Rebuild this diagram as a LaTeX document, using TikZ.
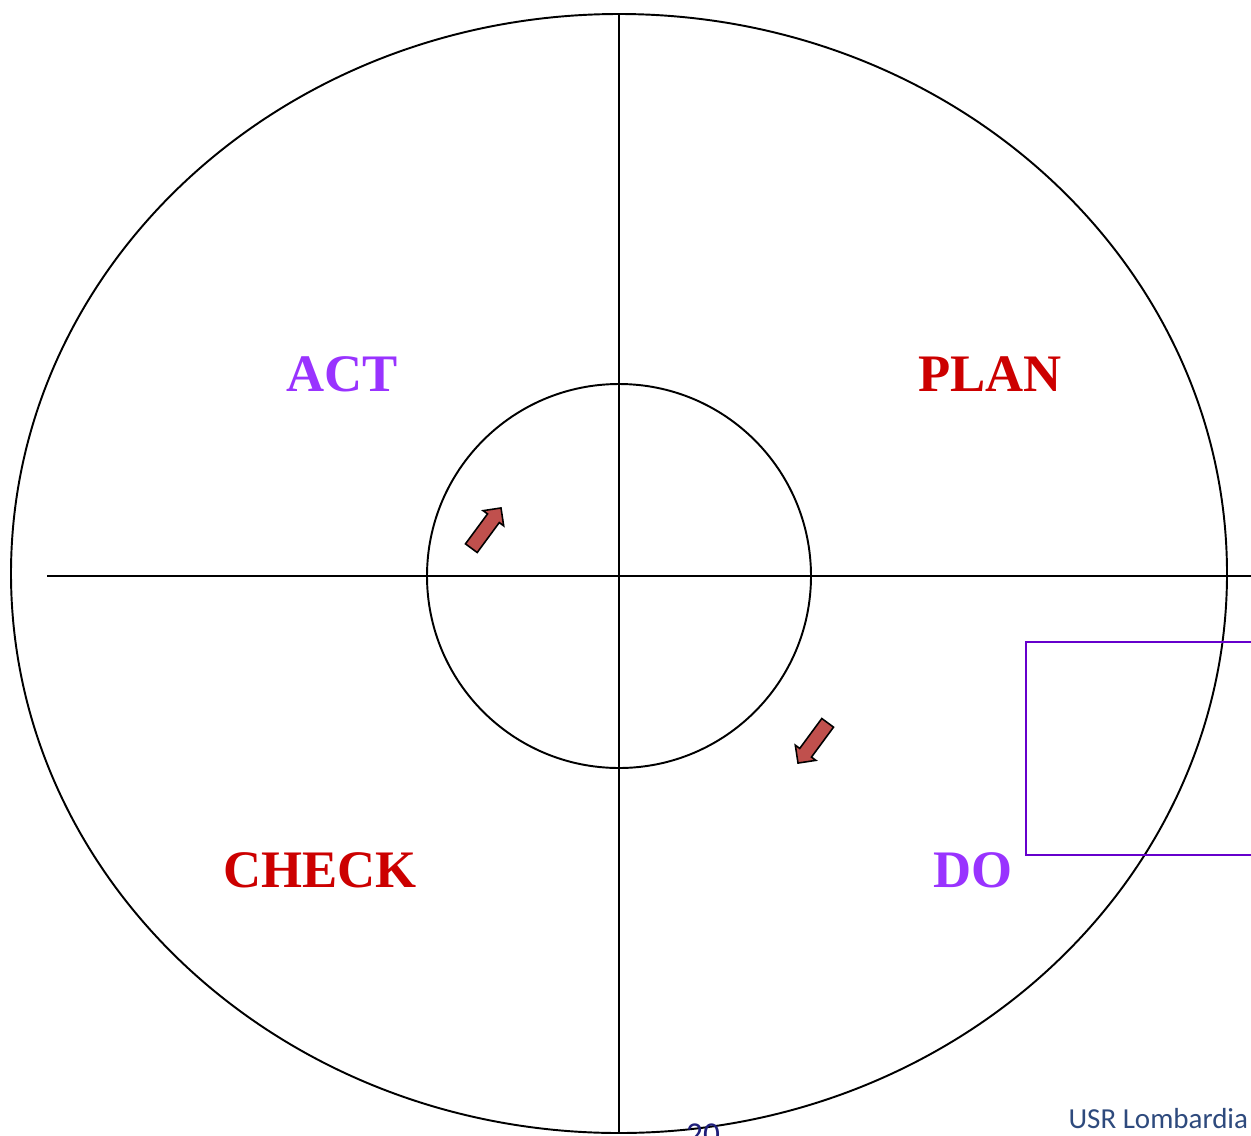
\documentclass[tikz,border=0pt]{standalone}
\usepackage{fontspec}
\setmainfont{Liberation Serif}
\newfontfamily\calibrifont{Carlito}
\usepackage{xcolor}
\usetikzlibrary{arrows.meta,positioning,shapes.arrows}
\definecolor{actpurple}{HTML}{9933FF}
\definecolor{planred}{HTML}{CC0000}
\definecolor{boxviolet}{HTML}{6600CC}
\definecolor{arrowred}{HTML}{C0504D}
\definecolor{footblue}{HTML}{2E4A7D}
\definecolor{pagenavy}{HTML}{1F1F7A}

\begin{document}
\begin{tikzpicture}[x=0.02cm,y=-0.02cm,line width=1.1pt]
  \tikzstyle{phase}=[font=\fontsize{30}{36}\selectfont\bfseries,inner sep=0pt]
  \tikzstyle{turn}=[single arrow,draw=black,fill=arrowred,line width=0.9pt,minimum height=1cm,minimum width=0pt,single arrow head extend=0.11cm,single arrow head indent=0pt,inner xsep=0pt,inner ysep=0.13cm]
  \useasboundingbox (0,0) rectangle (1251,1136);
  % outer ellipse and inner circle
  \draw (619,573.5) ellipse [x radius=608,y radius=559.5];
  \draw (619,576) circle [radius=192];
  % axes
  \draw (47,576) -- (1251,576);
  \draw (619,14) -- (619,1133);
  % phases
  \node[phase,text=actpurple] (act) at (342,374) {ACT};
  \node[phase,text=planred] (plan) at (990,374) {PLAN};
  \node[phase,text=planred] (check) at (320,870) {CHECK};
  \node[phase,text=actpurple] (do) at (973,870) {DO};
  % turning arrows
  \node[turn,rotate=53.6] (upturn) at (484,531) {};
  \node[turn,rotate=233.6] (downturn) at (815,740) {};
  % frame on the right
  \draw[boxviolet] (1026,642) rectangle (1260,855);
  % footer
  \node[font=\calibrifont\fontsize{16.5}{20}\selectfont,text=footblue,anchor=east,inner sep=0pt] (usr) at (1249,1119) {USR Lombardia};
  \node[font=\calibrifont\fontsize{19}{22}\selectfont,text=pagenavy,inner sep=0pt] (page) at (703,1135) {20};
\end{tikzpicture}
\end{document}
